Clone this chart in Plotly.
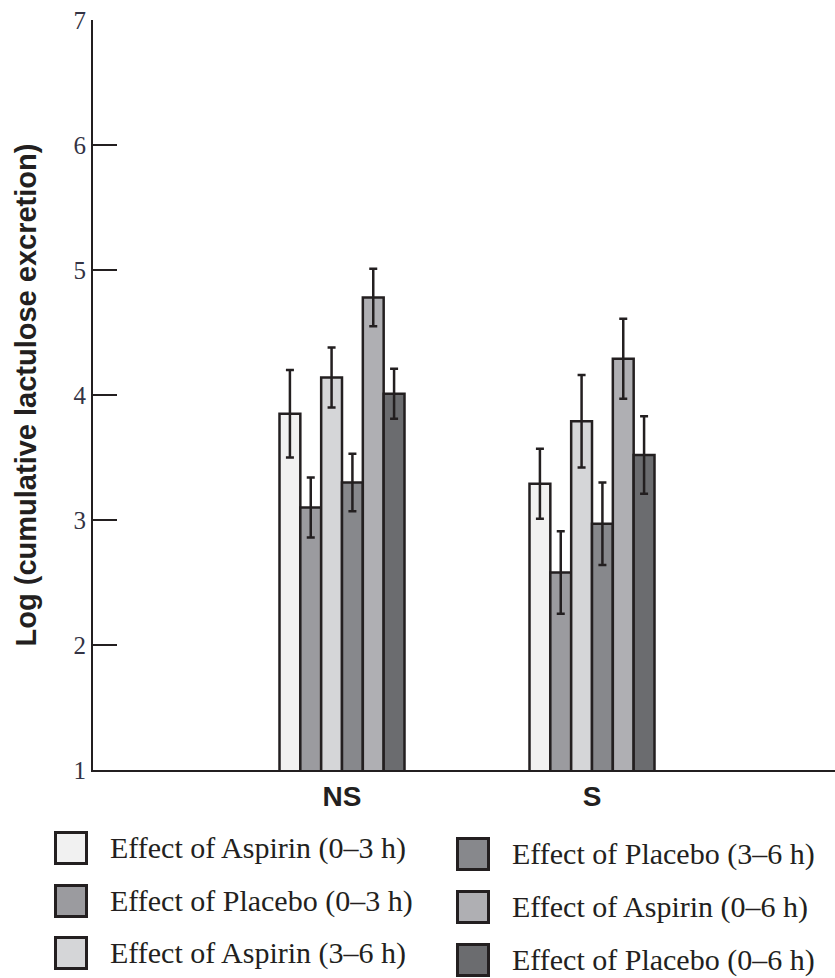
import plotly.graph_objects as go

groups = ["NS", "S"]
series_names = [
    "Effect of Aspirin (0–3 h)",
    "Effect of Placebo (0–3 h)",
    "Effect of Aspirin (3–6 h)",
    "Effect of Placebo (3–6 h)",
    "Effect of Aspirin (0–6 h)",
    "Effect of Placebo (0–6 h)",
]
aspirin_0_3 = [3.85, 3.29]
placebo_0_3 = [3.10, 2.58]
aspirin_3_6 = [4.14, 3.79]
placebo_3_6 = [3.30, 2.97]
aspirin_0_6 = [4.78, 4.29]
placebo_0_6 = [4.01, 3.52]
err_aspirin_0_3 = [0.35, 0.28]
err_placebo_0_3 = [0.24, 0.33]
err_aspirin_3_6 = [0.24, 0.37]
err_placebo_3_6 = [0.23, 0.33]
err_aspirin_0_6 = [0.23, 0.32]
err_placebo_0_6 = [0.20, 0.31]
y_ticks = [1, 2, 3, 4, 5, 6, 7]

values = [aspirin_0_3, placebo_0_3, aspirin_3_6, placebo_3_6, aspirin_0_6, placebo_0_6]
errors = [err_aspirin_0_3, err_placebo_0_3, err_aspirin_3_6, err_placebo_3_6, err_aspirin_0_6, err_placebo_0_6]
colors = ["#f1f1f1", "#9b9b9f", "#d5d6d8", "#87888c", "#afafb3", "#6b6c6f"]
dark = "#231f20"

W, H = 835, 978
ML, MR, MT, MB = 93, 0, 20, 208
PW, PH = W - ML - MR, H - MT - MB

fig = go.Figure()
for name, v, e, c in zip(series_names, values, errors, colors):
    fig.add_trace(go.Bar(
        x=groups, y=v, name=name,
        marker=dict(color=c, line=dict(color=dark, width=2.5)),
        error_y=dict(type="data", array=e, color=dark, thickness=2.5, width=4),
        showlegend=False,
    ))

# manual legend (two columns, column-major order)
def px2x(px):
    return (px - ML) / PW

def py2y(py):
    return (MT + PH - py) / PH

row_y = [[848, 901, 953], [854, 907, 960]]
col_sq = [71, 473]
col_tx = [108, 510]
sq = 31
shapes = []
annotations = []
for i, (name, c) in enumerate(zip(series_names, colors)):
    col, row = divmod(i, 3)
    cx, cy = col_sq[col], row_y[col][row]
    shapes.append(dict(type="rect", xref="paper", yref="paper",
                       x0=px2x(cx - sq / 2), x1=px2x(cx + sq / 2),
                       y0=py2y(cy + sq / 2), y1=py2y(cy - sq / 2),
                       fillcolor=c, line=dict(color=dark, width=3)))
    annotations.append(dict(text=name, xref="paper", yref="paper",
                            x=px2x(col_tx[col]), y=py2y(cy), xanchor="left", yanchor="middle",
                            showarrow=False,
                            font=dict(family="Liberation Serif", size=30, color=dark)))

fig.update_layout(
    width=W, height=H,
    margin=dict(l=ML, r=MR, t=MT, b=MB),
    plot_bgcolor="white", paper_bgcolor="white",
    barmode="group", bargap=0.5, bargroupgap=0,
    shapes=shapes, annotations=annotations,
    xaxis=dict(type="category", range=[-0.996, 1.972], showline=True, linecolor=dark, linewidth=2,
               ticks="", showgrid=False, zeroline=False,
               tickfont=dict(family="Liberation Sans", size=28, color=dark)),
    yaxis=dict(range=[1, 7], tickvals=y_ticks, ticks="inside", ticklen=24, tickwidth=2, tickcolor=dark,
               showline=True, linecolor=dark, linewidth=2, showgrid=False, zeroline=False,
               tickfont=dict(family="Liberation Serif", size=25, color="#333344"),
               title=dict(text="<b>Log (cumulative lactulose excretion)</b>", standoff=28,
                          font=dict(family="Liberation Sans", size=29, color=dark))),
)
fig.update_xaxes(tickprefix="<b>", ticksuffix="</b>")

fig.write_html("out.html")
